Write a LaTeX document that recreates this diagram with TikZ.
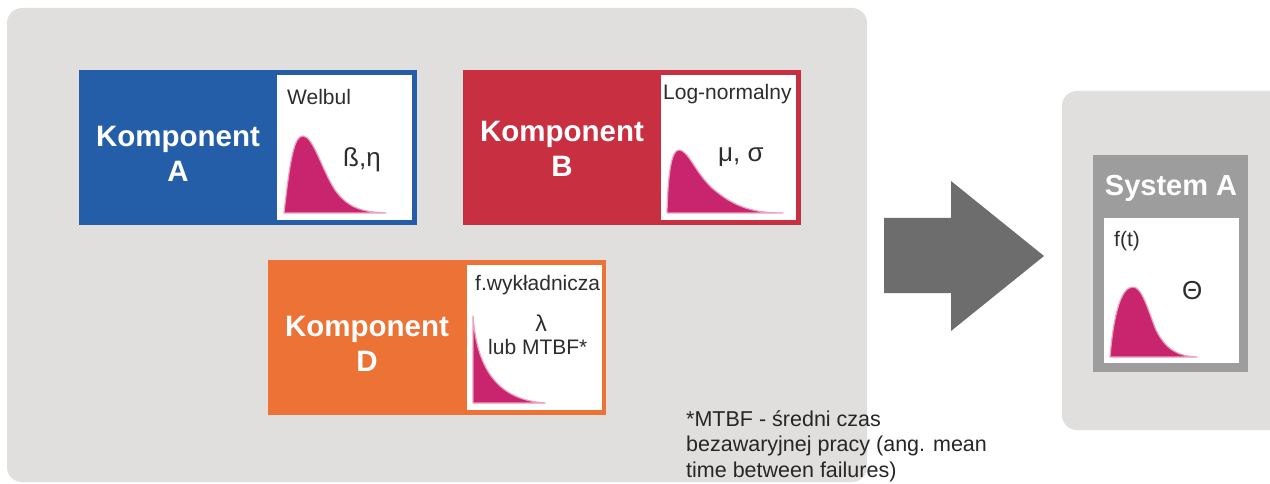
\documentclass[tikz,border=0pt]{standalone}
\usepackage{fontspec}
\setmainfont{Liberation Sans}

\definecolor{panelgray}{RGB}{224,223,222}
\definecolor{compA}{RGB}{36,94,168}
\definecolor{compB}{RGB}{200,47,64}
\definecolor{compD}{RGB}{236,115,53}
\definecolor{sysgray}{RGB}{157,157,157}
\definecolor{arrowgray}{RGB}{109,109,109}
\definecolor{curvepink}{RGB}{201,36,110}
\definecolor{curveedge}{RGB}{236,160,192}
\definecolor{textdark}{RGB}{45,45,45}

\tikzset{
  panel/.style={fill=panelgray, rounded corners=15pt},
  kbox/.style={minimum width=338pt, minimum height=155pt, inner sep=0pt},
  sysbox/.style={fill=sysgray, minimum width=155pt, minimum height=217pt, inner sep=0pt},
  inset/.style={fill=white, minimum width=135pt, minimum height=145pt, inner sep=0pt},
  ktitle/.style={text=white, inner sep=0pt, align=center,
    font=\fontsize{29.5}{35}\selectfont\bfseries},
  small/.style={text=textdark, inner sep=0pt, font=\fontsize{21}{25}\selectfont},
  param/.style={text=textdark, inner sep=0pt, font=\fontsize{26}{30}\selectfont},
  curve/.style={fill=curvepink, draw=curveedge, line width=1.2pt, line join=round},
}

\begin{document}
\begin{tikzpicture}[x=1pt,y=-1pt]
  \useasboundingbox (0,0) rectangle (1270,484);
  \fill[white] (0,0) rectangle (1270,484);

  % background panels
  \fill[panel] (7,8) rectangle (867,482);
  \fill[panel] (1062,91) rectangle (1300,430);

  % Komponent A
  \node[kbox, fill=compA, anchor=north west] (kompA) at (79,70) {};
  \node[inset, anchor=north east] (insA) at ([xshift=-5pt,yshift=-5pt]kompA.north east) {};
  \node[ktitle] (titA) at (178,154) {Komponent\\A};
  \node[small, anchor=base west] (distA) at (287,105) {Welbul};
  \node[param, anchor=base west] (parA) at (343,167) {ß,η};
  \filldraw[curve] (284,213) .. controls (290,160) and (294,136) .. (303,136)
    .. controls (313,136) and (322,170) .. (335,190)
    .. controls (348,208) and (362,212) .. (386,213) -- cycle;

  % Komponent B
  \node[kbox, fill=compB, anchor=north west] (kompB) at (463,70) {};
  \node[inset, anchor=north east] (insB) at ([xshift=-5pt,yshift=-5pt]kompB.north east) {};
  \node[ktitle] (titB) at (562,149) {Komponent\\B};
  \node[small, anchor=base west] (distB) at (663,100) {Log-normalny};
  \node[param, anchor=base west] (parB) at (718,162) {μ, σ};
  \filldraw[curve] (667,213) .. controls (668,170) and (672,150) .. (679,150)
    .. controls (688,150) and (695,172) .. (712,188)
    .. controls (735,208) and (755,213) .. (783,213) -- cycle;

  % Komponent D
  \node[kbox, fill=compD, anchor=north west] (kompD) at (268,260) {};
  \node[inset, anchor=north east] (insD) at ([xshift=-4pt,yshift=-5pt]kompD.north east) {};
  \node[ktitle] (titD) at (367,344) {Komponent\\D};
  \node[small, anchor=base west] (distD) at (475,290) {f.wykładnicza};
  \node[small, anchor=base, font=\fontsize{23}{25}\selectfont] (parD) at (541,331) {λ};
  \node[small, anchor=base west] (mtbf) at (488,354) {lub MTBF*};
  \filldraw[curve] (473,316) .. controls (477,372) and (500,400) .. (545,403)
    -- (473,403) -- cycle;

  % arrow
  \fill[arrowgray] (884,218) -- (951,218) -- (951,181) -- (1044,256)
    -- (951,331) -- (951,293) -- (884,293) -- cycle;

  % System A
  \node[sysbox, anchor=north west] (sysA) at (1093,155) {};
  \node[inset, anchor=north] (insS) at (1171,218) {};
  \node[ktitle, anchor=base, font=\fontsize{29}{35}\selectfont\bfseries] (titS) at (1171,196) {System A};
  \node[small, anchor=base west] (distS) at (1114,247) {f(t)};
  \node[param, anchor=base west] (parS) at (1182,299) {Θ};
  \filldraw[curve] (1110,357) .. controls (1114,310) and (1122,287) .. (1133,287)
    .. controls (1142,287) and (1148,310) .. (1156,330)
    .. controls (1166,350) and (1178,356) .. (1197,357) -- cycle;

  % footnote
  \node[small, anchor=north west, align=left, text=black!85,
    font=\fontsize{21.5}{25.5}\selectfont] (note) at (686,410)
    {*MTBF - średni czas\\bezawaryjnej pracy (ang. mean\\time between failures)};
\end{tikzpicture}
\end{document}
